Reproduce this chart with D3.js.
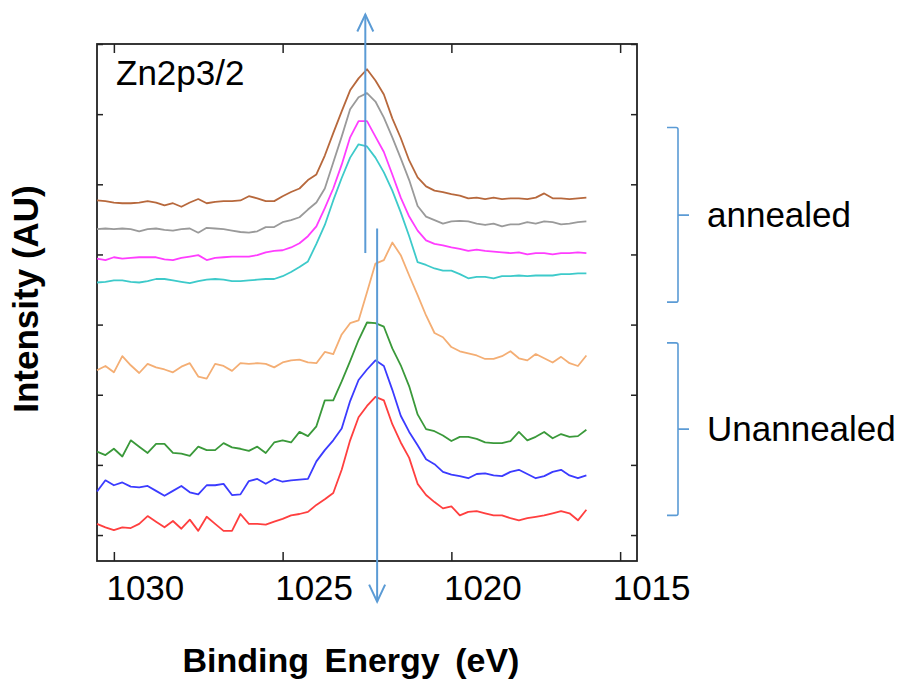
<!DOCTYPE html>
<html>
<head>
<meta charset="utf-8">
<script src="https://cdn.jsdelivr.net/npm/d3@7"></script>
<style>
  body { margin: 0; background: #ffffff; }
  svg { display: block; font-family: "Liberation Sans", Arial, sans-serif; }
</style>
</head>
<body>
<svg id="svg1" width="898" height="681"></svg>
<script>
// binding energy grid (eV)
const energies = [1030.5, 1030.25, 1030, 1029.75, 1029.5, 1029.25, 1029, 1028.75, 1028.5, 1028.25,
  1028, 1027.75, 1027.5, 1027.25, 1027, 1026.75, 1026.5, 1026.25, 1026, 1025.75,
  1025.5, 1025.25, 1025, 1024.75, 1024.5, 1024.25, 1024, 1023.75, 1023.5, 1023.25,
  1023, 1022.75, 1022.5, 1022.25, 1022, 1021.75, 1021.5, 1021.25, 1021, 1020.75,
  1020.5, 1020.25, 1020, 1019.75, 1019.5, 1019.25, 1019, 1018.75, 1018.5, 1018.25,
  1018, 1017.75, 1017.5, 1017.25, 1017, 1016.75, 1016.5, 1016.25, 1016];

// intensities (AU, offset stacked) - annealed
const annealed1 = [4.77,4.76,4.74,4.73,4.73,4.74,4.76,4.74,4.70,4.73, 4.68,4.74,4.79,4.73,4.75,4.76,4.76,4.77,4.83,4.80,
  4.76,4.76,4.83,4.89,4.94,5.06,5.14,5.41,5.73,6.04, 6.34,6.51,6.64,6.48,6.28,5.94,5.66,5.34,5.10,4.97,
  4.91,4.89,4.86,4.84,4.80,4.81,4.79,4.81,4.79,4.80, 4.80,4.79,4.81,4.87,4.80,4.80,4.79,4.80,4.81];
const annealed2 = [4.36,4.37,4.36,4.37,4.36,4.33,4.36,4.37,4.35,4.34, 4.36,4.37,4.31,4.38,4.37,4.36,4.34,4.32,4.31,4.33,
  4.39,4.39,4.46,4.49,4.53,4.64,4.74,4.94,5.31,5.68, 6.07,6.24,6.30,6.18,5.95,5.67,5.37,5.06,4.69,4.54,
  4.49,4.44,4.47,4.48,4.47,4.44,4.42,4.44,4.40,4.43, 4.43,4.46,4.44,4.47,4.46,4.43,4.44,4.46,4.47];
const annealed3 = [3.94,3.92,3.96,3.94,3.95,3.96,3.96,3.96,3.93,3.92, 3.95,3.97,3.99,3.92,3.95,3.96,3.97,3.97,3.97,3.99,
  4.03,4.05,4.06,4.10,4.16,4.26,4.40,4.66,4.94,5.28, 5.67,5.90,5.90,5.68,5.46,5.14,4.81,4.54,4.34,4.20,
  4.15,4.13,4.10,4.08,4.05,4.07,4.05,4.04,4.03,4.02, 4.03,4.00,4.02,4.02,4.00,4.02,4.02,4.03,4.02];
const annealed4 = [3.60,3.61,3.63,3.63,3.61,3.60,3.62,3.65,3.65,3.63, 3.61,3.59,3.62,3.64,3.65,3.64,3.62,3.62,3.63,3.64,
  3.65,3.65,3.69,3.75,3.82,3.90,4.15,4.42,4.77,5.09, 5.38,5.57,5.54,5.38,5.17,4.91,4.60,4.26,3.89,3.85,
  3.80,3.77,3.77,3.72,3.66,3.68,3.68,3.66,3.69,3.69, 3.70,3.69,3.70,3.70,3.70,3.72,3.72,3.73,3.73];

// unannealed
const unannealed1 = [2.35,2.41,2.32,2.55,2.42,2.31,2.44,2.39,2.36,2.32, 2.40,2.45,2.26,2.23,2.44,2.41,2.34,2.45,2.44,2.45,
  2.44,2.39,2.46,2.49,2.50,2.46,2.45,2.61,2.58,2.86, 3.02,3.06,3.46,3.87,3.92,4.17,3.99,3.70,3.42,3.13,
  2.88,2.82,2.68,2.62,2.59,2.56,2.51,2.51,2.55,2.62, 2.52,2.49,2.58,2.52,2.46,2.54,2.45,2.41,2.56];
const unannealed2 = [1.19,1.14,1.23,1.12,1.35,1.26,1.17,1.30,1.30,1.17, 1.16,1.13,1.26,1.21,1.21,1.31,1.25,1.23,1.20,1.26,
  1.17,1.32,1.35,1.32,1.47,1.41,1.55,1.92,1.92,2.19, 2.48,2.78,3.03,3.02,2.97,2.66,2.42,2.12,1.72,1.51,
  1.48,1.42,1.34,1.40,1.40,1.37,1.32,1.31,1.31,1.34, 1.47,1.35,1.40,1.47,1.38,1.44,1.40,1.41,1.50];
const unannealed3 = [0.62,0.78,0.71,0.75,0.69,0.68,0.70,0.63,0.56,0.63, 0.70,0.61,0.58,0.71,0.71,0.73,0.57,0.58,0.77,0.80,
  0.73,0.80,0.76,0.78,0.79,0.80,1.05,1.21,1.35,1.52, 1.91,2.21,2.36,2.49,2.41,2.07,1.70,1.47,1.28,1.08,
  1.01,0.90,0.86,0.84,0.81,0.87,0.88,0.85,0.84,0.90, 0.93,0.87,0.81,0.84,0.90,0.93,0.85,0.81,0.85];
const unannealed4 = [0.16,0.11,0.07,0.11,0.10,0.16,0.27,0.19,0.11,0.20, 0.09,0.22,0.06,0.26,0.16,0.06,0.06,0.30,0.16,0.16,
  0.15,0.19,0.23,0.28,0.30,0.33,0.43,0.51,0.60,0.93, 1.35,1.68,1.84,1.97,1.92,1.58,1.32,1.10,0.73,0.57,
  0.47,0.38,0.41,0.28,0.33,0.34,0.31,0.28,0.28,0.24, 0.21,0.24,0.26,0.28,0.31,0.34,0.31,0.21,0.36];

const seriesList = [annealed1, annealed2, annealed3, annealed4, unannealed1, unannealed2, unannealed3, unannealed4];
const seriesColors = ["#B7683C", "#9A9A9A", "#FF3DFF", "#3DCACA", "#F4AE74", "#3A993A", "#3B3BFF", "#FF3F3F"];

// axis ticks
const xTicks = [1030, 1025, 1020, 1015];
const xTickLabels = ["1030", "1025", "1020", "1015"];
const yTicks = [0, 1, 2, 3, 4, 5, 6, 7];

// annotations (data units)
const peakArrowAnnealed = { e: 1022.55, from: 4.02, to: 7.42 };
const peakArrowUnannealed = { e: 1022.2, from: 4.37, to: -0.95 };
const groups = [
  { label: "annealed", top: 5.81, bottom: 3.32, mid: 4.56 },
  { label: "Unannealed", top: 2.74, bottom: 0.28, mid: 1.51 }
];

const plotLeft = 97, plotRight = 637, plotTop = 44, plotBottom = 561;
const arrowColor = "#5B9BD5";

const svg = d3.select("#svg1");

const xScale = d3.scaleLinear().domain([1030.5, 1014.5]).range([plotLeft, plotRight]);
const yScale = d3.scaleLinear().domain([-0.37, 7]).range([plotBottom, plotTop]);

// axes with inward ticks
const bottomAxis = d3.axisBottom(xScale).tickValues(xTicks).tickSize(-9).tickSizeOuter(0)
  .tickFormat((d, i) => xTickLabels[i]);
const topAxis = d3.axisTop(xScale).tickValues(xTicks).tickSize(-9).tickSizeOuter(0).tickFormat("");
const leftAxis = d3.axisLeft(yScale).tickValues(yTicks).tickSize(-6).tickSizeOuter(0).tickFormat("");
const rightAxis = d3.axisRight(yScale).tickValues(yTicks).tickSize(-6).tickSizeOuter(0).tickFormat("");

const gBot = svg.append("g").attr("transform", "translate(0," + plotBottom + ")").call(bottomAxis);
svg.append("g").attr("transform", "translate(0," + plotTop + ")").call(topAxis);
svg.append("g").attr("transform", "translate(" + plotLeft + ",0)").call(leftAxis);
svg.append("g").attr("transform", "translate(" + plotRight + ",0)").call(rightAxis);

svg.selectAll(".domain").remove();
svg.selectAll(".tick line").attr("stroke", "#222").attr("stroke-width", 1.5);

gBot.selectAll(".tick text")
  .attr("y", 39)
  .attr("dy", 0)
  .attr("x", 31)
  .attr("fill", "#000")
  .attr("font-size", "35px")
  .attr("font-family", "'Liberation Sans', Arial, sans-serif");

// frame
svg.append("rect")
  .attr("x", plotLeft).attr("y", plotTop)
  .attr("width", plotRight - plotLeft).attr("height", plotBottom - plotTop)
  .attr("fill", "none").attr("stroke", "#222").attr("stroke-width", 1.8);

// spectra
const line = d3.line()
  .x((d, i) => xScale(energies[i]))
  .y(d => yScale(d));

svg.selectAll("path.spec")
  .data(seriesList)
  .join("path")
  .attr("class", "spec")
  .attr("d", d => line(d))
  .attr("fill", "none")
  .attr("stroke", (d, i) => seriesColors[i])
  .attr("stroke-width", 1.8)
  .attr("stroke-linejoin", "round");

// peak arrows
function drawArrow(a) {
  const x = xScale(a.e), y1 = yScale(a.from), y2 = yScale(a.to);
  const dir = y2 < y1 ? 1 : -1;
  svg.append("line").attr("x1", x).attr("x2", x).attr("y1", y1).attr("y2", y2)
    .attr("stroke", arrowColor).attr("stroke-width", 2);
  svg.append("path")
    .attr("d", "M" + (x - 8) + "," + (y2 + dir * 17) + "L" + x + "," + y2 + "L" + (x + 8) + "," + (y2 + dir * 17))
    .attr("fill", "none").attr("stroke", arrowColor).attr("stroke-width", 2);
}
drawArrow(peakArrowAnnealed);
drawArrow(peakArrowUnannealed);

// group brackets
const bx = plotRight + 41;
groups.forEach(g => {
  const yt = yScale(g.top), yb = yScale(g.bottom), ym = yScale(g.mid);
  svg.append("path")
    .attr("d", "M" + (bx - 11) + "," + yt + "L" + (bx - 2) + "," + yt + "Q" + bx + "," + yt + " " + bx + "," + (yt + 2) +
      "L" + bx + "," + (yb - 2) + "Q" + bx + "," + yb + " " + (bx - 2) + "," + yb + "L" + (bx - 11) + "," + yb +
      "M" + bx + "," + ym + "L" + (bx + 11) + "," + ym)
    .attr("fill", "none").attr("stroke", arrowColor).attr("stroke-width", 1.6);
  svg.append("text")
    .attr("x", bx + 29).attr("y", ym).attr("dy", "0.35em")
    .attr("font-size", "35px").attr("fill", "#000")
    .text(g.label);
});

// panel label
svg.append("text")
  .attr("x", 116).attr("y", 85)
  .attr("font-size", "35px").attr("fill", "#000")
  .text("Zn2p3/2");

// axis titles
svg.append("text")
  .attr("x", 351).attr("y", 672)
  .attr("text-anchor", "middle")
  .attr("font-size", "34px").attr("font-weight", "bold")
  .attr("word-spacing", "6px")
  .text("Binding Energy (eV)");

svg.append("text")
  .attr("transform", "translate(38,299) rotate(-90)")
  .attr("text-anchor", "middle")
  .attr("font-size", "35px").attr("font-weight", "bold")
  .text("Intensity (AU)");
</script>
</body>
</html>
